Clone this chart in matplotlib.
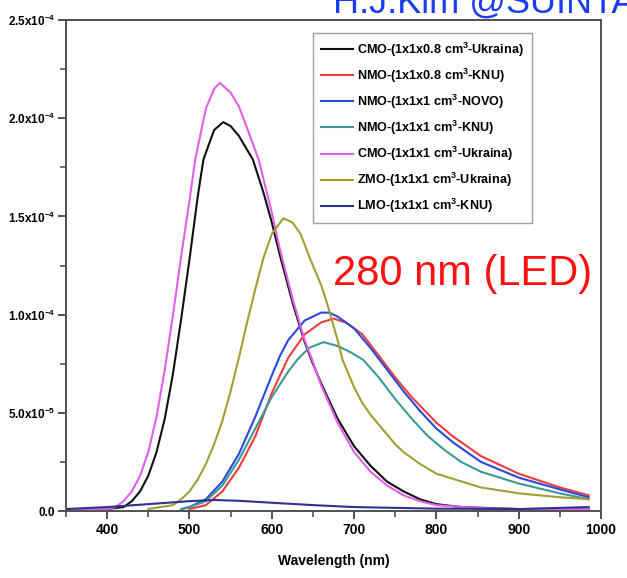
import matplotlib

matplotlib.use("Agg")
import matplotlib.pyplot as plt
from matplotlib.ticker import FixedLocator, MultipleLocator

plt.rcParams["font.family"] = ["Liberation Sans", "DejaVu Sans"]
plt.rcParams["mathtext.fontset"] = "custom"
plt.rcParams["mathtext.rm"] = "Liberation Sans:bold"
plt.rcParams["mathtext.bf"] = "Liberation Sans:bold"

# %% Emission spectra (intensity, a.u.) vs wavelength (nm)
wl_cmo08 = [350, 380, 400, 420, 430, 440, 450, 460, 470, 480, 490, 500, 510, 517, 530, 541, 550,
            560, 577, 590, 600, 610, 626, 640, 649, 660, 680, 700, 720, 740, 760, 780, 800, 830,
            900, 950, 985]
cmo08 = [1e-6, 1e-6, 1e-6, 2e-6, 5e-6, 1.0e-5, 1.8e-5, 3.0e-5, 4.7e-5, 7.0e-5, 9.8e-5, 1.28e-4,
         1.6e-4, 1.79e-4, 1.94e-4, 1.98e-4, 1.96e-4, 1.91e-4, 1.79e-4, 1.62e-4, 1.47e-4, 1.30e-4,
         1.05e-4, 8.6e-5, 7.6e-5, 6.5e-5, 4.7e-5, 3.3e-5, 2.3e-5, 1.5e-5, 1.0e-5, 6e-6, 3.5e-6,
         2e-6, 1e-6, 1e-6, 1e-6]

wl_nmo08 = [500, 520, 540, 560, 580, 600, 610, 620, 640, 660, 675, 690, 710, 732, 750, 770, 800,
            820, 854, 900, 950, 985]
nmo08 = [1e-6, 3e-6, 1.0e-5, 2.2e-5, 3.8e-5, 6.0e-5, 6.9e-5, 7.8e-5, 9.0e-5, 9.6e-5, 9.8e-5,
         9.6e-5, 9.0e-5, 7.8e-5, 6.8e-5, 5.8e-5, 4.5e-5, 3.8e-5, 2.8e-5, 1.9e-5, 1.2e-5, 8e-6]

wl_novo = [490, 500, 520, 540, 560, 580, 600, 610, 620, 640, 660, 670, 680, 700, 720, 740, 760,
           780, 800, 820, 854, 900, 950, 985]
novo = [1e-6, 2e-6, 6e-6, 1.5e-5, 2.9e-5, 4.8e-5, 6.9e-5, 7.9e-5, 8.7e-5, 9.7e-5, 1.01e-4,
        1.01e-4, 9.9e-5, 9.3e-5, 8.3e-5, 7.2e-5, 6.1e-5, 5.1e-5, 4.2e-5, 3.5e-5, 2.5e-5, 1.7e-5,
        1.1e-5, 7e-6]

wl_knu1 = [490, 500, 520, 540, 560, 580, 600, 620, 631, 645, 663, 680, 695, 711, 730, 750, 770,
           790, 810, 830, 854, 900, 950, 985]
knu1 = [1e-6, 2e-6, 5e-6, 1.3e-5, 2.6e-5, 4.2e-5, 5.8e-5, 7.1e-5, 7.7e-5, 8.3e-5, 8.6e-5, 8.4e-5,
        8.1e-5, 7.7e-5, 6.8e-5, 5.7e-5, 4.7e-5, 3.8e-5, 3.1e-5, 2.5e-5, 2.0e-5, 1.4e-5, 9e-6, 6e-6]

wl_cmo1 = [350, 380, 400, 410, 420, 430, 440, 450, 460, 470, 480, 490, 500, 507, 520, 530, 537,
           550, 560, 570, 584, 600, 610, 626, 640, 649, 660, 680, 700, 720, 740, 760, 780, 800,
           850, 900, 950, 985]
cmo1 = [1e-6, 1e-6, 1e-6, 2e-6, 5e-6, 1.0e-5, 1.8e-5, 3.0e-5, 4.8e-5, 7.2e-5, 1.0e-4, 1.3e-4,
        1.58e-4, 1.79e-4, 2.05e-4, 2.15e-4, 2.18e-4, 2.13e-4, 2.06e-4, 1.95e-4, 1.79e-4, 1.52e-4,
        1.33e-4, 1.07e-4, 8.7e-5, 7.7e-5, 6.4e-5, 4.5e-5, 3.0e-5, 2.0e-5, 1.3e-5, 8e-6, 5e-6,
        3e-6, 1.5e-6, 1e-6, 1e-6, 1e-6]

wl_zmo = [450, 480, 490, 500, 510, 520, 530, 540, 550, 560, 570, 580, 590, 600, 614, 625, 635,
          647, 660, 667, 680, 686, 700, 710, 720, 730, 740, 750, 760, 780, 800, 854, 900, 950, 985]
zmo = [1e-6, 3e-6, 6e-6, 1.0e-5, 1.6e-5, 2.4e-5, 3.4e-5, 4.6e-5, 6.1e-5, 7.8e-5, 9.6e-5, 1.13e-4,
       1.29e-4, 1.41e-4, 1.49e-4, 1.47e-4, 1.41e-4, 1.28e-4, 1.15e-4, 1.06e-4, 8.7e-5, 7.7e-5,
       6.3e-5, 5.5e-5, 4.9e-5, 4.4e-5, 3.9e-5, 3.4e-5, 3.0e-5, 2.4e-5, 1.9e-5, 1.2e-5, 9e-6, 7e-6,
       6e-6]

wl_lmo = [350, 400, 450, 500, 530, 560, 600, 650, 700, 800, 900, 985]
lmo = [1e-6, 2e-6, 3.5e-6, 5e-6, 5.6e-6, 5.2e-6, 4.2e-6, 3e-6, 2e-6, 1.2e-6, 1e-6, 2e-6]

series = [
    (wl_cmo08, cmo08, "#111111", r"CMO-(1x1x0.8 cm$^3$-Ukraina)"),
    (wl_nmo08, nmo08, "#f03c3c", r"NMO-(1x1x0.8 cm$^3$-KNU)"),
    (wl_novo, novo, "#2848e0", r"NMO-(1x1x1 cm$^3$-NOVO)"),
    (wl_knu1, knu1, "#3c9a96", r"NMO-(1x1x1 cm$^3$-KNU)"),
    (wl_cmo1, cmo1, "#e060e8", r"CMO-(1x1x1 cm$^3$-Ukraina)"),
    (wl_zmo, zmo, "#a0a032", r"ZMO-(1x1x1 cm$^3$-Ukraina)"),
    (wl_lmo, lmo, "#303090", r"LMO-(1x1x1 cm$^3$-KNU)"),
]

y_ticks = [0, 5e-5, 1e-4, 1.5e-4, 2e-4, 2.5e-4]
y_labels = ["0.0", r"$\mathregular{5.0x10^{-5}}$", r"$\mathregular{1.0x10^{-4}}$",
            r"$\mathregular{1.5x10^{-4}}$", r"$\mathregular{2.0x10^{-4}}$",
            r"$\mathregular{2.5x10^{-4}}$"]

# %% Figure
fig = plt.figure(figsize=(6.27, 5.78), dpi=100)
ax = fig.add_axes([66 / 627, 1 - 511 / 578, 535 / 627, 491 / 578])

for x, y, c, lab in series:
    ax.plot(x, y, color=c, lw=1.5, label=lab)

ax.set_xlim(350, 1000)
ax.set_ylim(0, 2.5e-4)
ax.xaxis.set_major_locator(MultipleLocator(100))
ax.xaxis.set_minor_locator(MultipleLocator(50))
ax.yaxis.set_major_locator(FixedLocator(y_ticks))
ax.yaxis.set_minor_locator(MultipleLocator(2.5e-5))
ax.set_yticklabels(y_labels)
ax.tick_params(which="major", length=6, width=1.3, color="#444444", labelsize=10, pad=3)
ax.tick_params(axis="y", which="major", labelsize=8.5, pad=2)
ax.tick_params(which="minor", length=4, width=1.1, color="#444444")
for lbl in ax.get_xticklabels() + ax.get_yticklabels():
    lbl.set_fontweight("bold")
for sp in ax.spines.values():
    sp.set_color("#505050")
    sp.set_linewidth(1.4)
ax.set_xlabel("Wavelength (nm)", fontsize=10, fontweight="bold", labelpad=12)

leg = ax.legend(loc="upper left", bbox_to_anchor=((313 - 66) / 535, (511 - 33) / 491),
                borderaxespad=0, prop={"weight": "bold", "size": 9.1}, handlelength=2.6,
                labelspacing=0.62, frameon=True, fancybox=False, borderpad=0.6,
                handletextpad=0.3)
leg.get_frame().set_edgecolor("#888888")
leg.get_frame().set_linewidth(1.0)

fig.text(333 / 627, 1 - 285 / 578, "280 nm (LED)", color="#ff1010", fontsize=30)
fig.text(333 / 627, 1 - 13 / 578, "H.J.Kim @SUINTA", color="#1a3cf0", fontsize=26)

fig.savefig("out.png", dpi=100)
